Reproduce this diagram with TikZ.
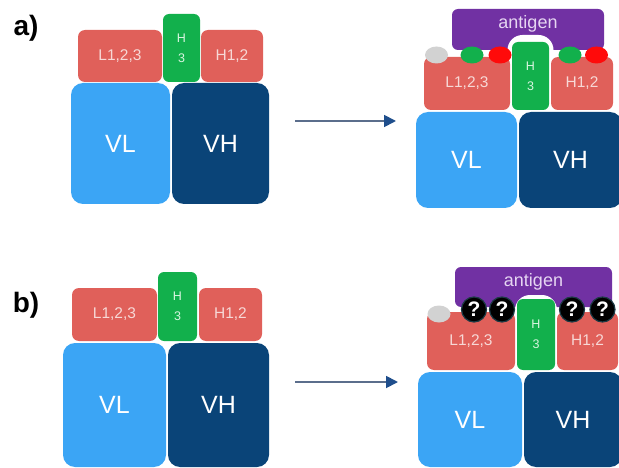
\documentclass[tikz,border=0pt]{standalone}
\usepackage{fontspec}
\setmainfont{Liberation Sans}
\usetikzlibrary{arrows.meta,shapes.geometric}
\definecolor{cdr}{HTML}{E0605A}
\definecolor{hgreen}{HTML}{12B04C}
\definecolor{vlblue}{HTML}{3BA5F5}
\definecolor{vhblue}{HTML}{0A4478}
\definecolor{agpurple}{HTML}{7131A3}
\definecolor{cdrtext}{HTML}{F7D8D6}
\definecolor{greentext}{HTML}{D8F5E0}
\definecolor{agtext}{HTML}{E6D6F2}
\definecolor{arrline}{HTML}{5B6E8C}
\definecolor{arrhead}{HTML}{1F4E8C}
\definecolor{resgrey}{HTML}{D2D2D2}
\definecolor{resred}{HTML}{FF0A0A}
\definecolor{qborder}{HTML}{1C3A44}
\tikzset{
  blk/.style={rectangle, inner sep=0pt, outer sep=0pt, draw=none},
  cdrbox/.style={blk, fill=cdr, rounded corners=7pt, text=cdrtext, font=\fontsize{15.5}{16}\selectfont},
  h3box/.style={blk, fill=hgreen, rounded corners=6pt, text=greentext, align=center, font=\fontsize{12.5}{20}\selectfont},
  vlbox/.style={blk, fill=vlblue, rounded corners=12pt, text=white, font=\fontsize{25}{26}\selectfont},
  vhbox/.style={blk, fill=vhblue, rounded corners=12pt, text=white, font=\fontsize{25}{26}\selectfont},
  agbox/.style={blk, fill=agpurple, rounded corners=6pt},
  agtextst/.style={inner sep=0pt, text=agtext, font=\fontsize{18}{19}\selectfont},
  hump/.style={blk, fill=white, rounded corners=15pt},
  res/.style={ellipse, inner sep=0pt, outer sep=0pt, draw=none, minimum width=23pt, minimum height=17pt},
  qres/.style={circle, inner sep=0pt, outer sep=0pt, fill=black, draw=qborder, line width=1.2pt, minimum size=25pt, text=white, font=\bfseries\fontsize{21}{21}\selectfont},
  panellabel/.style={inner sep=0pt, font=\bfseries\fontsize{28}{28}\selectfont},
  reaction/.style={draw=arrline, line width=1.8pt, -{Triangle[length=12pt,width=12pt,color=arrhead,fill=arrhead]}}
}
\begin{document}
\begin{tikzpicture}[x=1pt,y=-1pt]
\useasboundingbox (0,0) rectangle (619,468);
\clip (0,0) rectangle (619,468);
% ---------- panel a, left ----------
\node[panellabel] (lbla) at (26,28) {a)};
\node[cdrbox, minimum width=84pt, minimum height=52pt] (aL) at (120,56) {L1,2,3};
\node[cdrbox, minimum width=62pt, minimum height=52pt] (aH) at (232,56) {H1,2};
\node[h3box, minimum width=37pt, minimum height=68pt] (aH3) at (181.5,48) {H\\3};
\node[vlbox, minimum width=99pt, minimum height=121pt] (aVL) at (120.5,143.5) {VL};
\node[vhbox, minimum width=97pt, minimum height=121pt] (aVH) at (220.5,143.5) {VH};
% arrow a
\coordinate (aS) at (295,121);
\coordinate (aE) at (396,121);
\draw[reaction] (aS) -- (aE);
% ---------- panel a, right ----------
\node[agbox, minimum width=152pt, minimum height=41pt] (aAg) at (528,29.5) {};
\node[agtextst] (aAgT) at (528,24) {antigen};
\node[hump, minimum width=46pt, minimum height=40pt] (aHump) at (530.5,55) {};
\node[cdrbox, minimum width=86pt, minimum height=53pt] (bL) at (467,83.5) {L1,2,3};
\node[cdrbox, minimum width=62pt, minimum height=53pt] (bH) at (582,83.5) {H1,2};
\node[h3box, minimum width=37pt, minimum height=68pt] (bH3) at (530.5,76) {H\\3};
\node[vlbox, minimum width=101pt, minimum height=96pt] (bVL) at (466.5,160) {VL};
\node[vhbox, minimum width=103pt, minimum height=96pt] (bVH) at (570.5,160) {VH};
\node[res, fill=resgrey] (r1) at (436.5,55) {};
\node[res, fill=hgreen] (r2) at (472,55) {};
\node[res, fill=resred] (r3) at (500,55) {};
\node[res, fill=hgreen] (r4) at (570,55) {};
\node[res, fill=resred] (r5) at (596.5,55) {};
% ---------- panel b, left ----------
\node[panellabel] (lblb) at (26,305) {b)};
\node[cdrbox, minimum width=85pt, minimum height=53pt] (cL) at (114.5,314.5) {L1,2,3};
\node[cdrbox, minimum width=63pt, minimum height=53pt] (cH) at (230.5,314.5) {H1,2};
\node[h3box, minimum width=39pt, minimum height=69pt] (cH3) at (177.5,306.5) {H\\3};
\node[vlbox, minimum width=103pt, minimum height=124pt] (cVL) at (114.5,405) {VL};
\node[vhbox, minimum width=101pt, minimum height=124pt] (cVH) at (218.5,405) {VH};
% arrow b
\coordinate (bS) at (295,382);
\coordinate (bE) at (398,382);
\draw[reaction] (bS) -- (bE);
% ---------- panel b, right ----------
\node[agbox, minimum width=157pt, minimum height=40pt] (dAg) at (533.5,287) {};
\node[agtextst] (dAgT) at (533.5,282) {antigen};
\node[hump, minimum width=42pt, minimum height=36pt] (dHump) at (536,313) {};
\node[cdrbox, minimum width=88pt, minimum height=58pt] (dL) at (471,341) {L1,2,3};
\node[cdrbox, minimum width=61pt, minimum height=58pt] (dH) at (587.5,341) {H1,2};
\node[h3box, minimum width=38pt, minimum height=71pt] (dH3) at (536,334.5) {H\\3};
\node[vlbox, minimum width=104pt, minimum height=95pt] (dVL) at (470,419.5) {VL};
\node[vhbox, minimum width=98pt, minimum height=95pt] (dVH) at (573,419.5) {VH};
\node[res, fill=resgrey] (q0) at (439,314) {};
\node[qres] (q1) at (474,309.5) {?};
\node[qres] (q2) at (502,309.5) {?};
\node[qres] (q3) at (572,309.5) {?};
\node[qres] (q4) at (602.5,309.5) {?};
\end{tikzpicture}
\end{document}
